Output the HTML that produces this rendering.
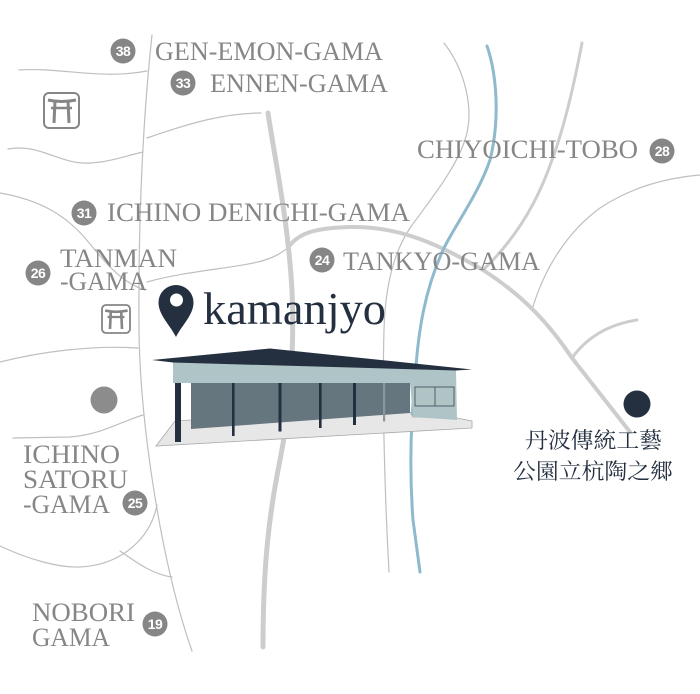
<!DOCTYPE html>
<html>
<head>
<meta charset="utf-8">
<style>
  html, body { margin: 0; padding: 0; background: #fff; }
  svg { display: block; }
  .lbl { font-family: "Liberation Serif", serif; font-size: 26px; fill: #868686; }
  .num { font-family: "Liberation Sans", sans-serif; font-weight: bold; font-size: 14px; fill: #fff; text-anchor: middle; letter-spacing: -0.5px; }
  .cjk { font-family: "Liberation Serif", "Noto Serif CJK SC", "Noto Sans CJK TC", serif; font-size: 22px; fill: #243040; }
</style>
</head>
<body>
<svg width="700" height="694" viewBox="0 0 700 694" xmlns="http://www.w3.org/2000/svg">
  <rect width="700" height="694" fill="#fff"/>

  <!-- thin roads -->
  <g fill="none" stroke="#bfbfbf" stroke-width="1.2" stroke-linecap="round">
    <path d="M152,35 C145,100 138,200 139,330 C140,420 160,560 192,651"/>
    <path d="M19,70 C60,67 100,80 147,71"/>
    <path d="M147,138 C190,123 225,113 261,113"/>
    <path d="M8,149 C40,143 60,165 90,163 C110,162 125,156 143,152"/>
    <path d="M0,193 C40,200 65,215 85,238 C105,262 120,282 145,290"/>
    <path d="M147,282 C190,270 240,268 265,260 C278,256 285,250 292,245"/>
    <path d="M0,362 C40,352 90,345 138,348"/>
    <path d="M13,438 L70,437 C100,435 120,422 143,415"/>
    <path d="M0,546 C30,560 60,568 80,567 C120,565 150,540 157,505"/>
    <path d="M120,551 C140,565 155,575 172,577"/>
    <path d="M444,43 C465,70 475,110 465,140 C455,170 430,200 410,228 C392,255 385,290 384,330 C382,400 385,500 389,572"/>
    <path d="M532,310 C545,265 570,230 600,208 C630,188 665,178 700,175"/>
  </g>

  <!-- thick roads -->
  <g fill="none" stroke="#cdcdcd" stroke-linecap="round">
    <path stroke-width="5" d="M268,113 C275,160 288,220 292,290 C295,360 288,420 280,460 C270,510 263,560 263,647"/>
    <path stroke-width="4" d="M290,245 C300,233 315,228 350,227 C400,226 440,245 483,270 C525,297 550,325 572,358 L630,432"/>
    <path stroke-width="3" d="M582,43 C575,80 565,125 552,160 C540,195 520,235 483,270"/>
    <path stroke-width="3" d="M572,358 C585,340 605,325 637,320"/>
  </g>

  <!-- river -->
  <path fill="none" stroke="#8fb9cd" stroke-width="3" stroke-linecap="round"
        d="M487,46 C497,75 500,120 490,160 C478,195 455,225 443,250 C425,290 418,330 415,380 C410,430 410,480 413,520 L420,572"/>

  <!-- torii icons -->
  <g id="torii" fill="none" stroke="#868686">
    <rect x="44" y="93" width="35" height="35" rx="5" stroke-width="2"/>
    <path d="M48,100 Q61.5,103 76,100" stroke-width="3"/>
    <path d="M51,108 L72,108" stroke-width="2.5"/>
    <path d="M55,101 L54,123 M68,101 L69,123" stroke-width="3"/>
  </g>
  <g transform="translate(102,305) scale(0.8) translate(-44,-93)" fill="none" stroke="#868686">
    <rect x="44" y="93" width="35" height="35" rx="5" stroke-width="2.3"/>
    <path d="M48,100 Q61.5,103 76,100" stroke-width="3.3"/>
    <path d="M51,108 L72,108" stroke-width="2.8"/>
    <path d="M55,101 L54,123 M68,101 L69,123" stroke-width="3.3"/>
  </g>

  <!-- labels -->
  <text class="lbl" x="155" y="60" textLength="228" lengthAdjust="spacingAndGlyphs">GEN-EMON-GAMA</text>
  <text class="lbl" x="210" y="92" textLength="178" lengthAdjust="spacingAndGlyphs">ENNEN-GAMA</text>
  <text class="lbl" x="417" y="158" textLength="221" lengthAdjust="spacingAndGlyphs">CHIYOICHI-TOBO</text>
  <text class="lbl" x="107" y="221" textLength="303" lengthAdjust="spacingAndGlyphs">ICHINO DENICHI-GAMA</text>
  <text class="lbl" x="60" y="267" textLength="117" lengthAdjust="spacingAndGlyphs">TANMAN</text>
  <text class="lbl" x="60" y="290" textLength="87" lengthAdjust="spacingAndGlyphs">-GAMA</text>
  <text class="lbl" x="343" y="270" textLength="197" lengthAdjust="spacingAndGlyphs">TANKYO-GAMA</text>
  <text class="lbl" x="23" y="463" textLength="97" lengthAdjust="spacingAndGlyphs">ICHINO</text>
  <text class="lbl" x="23" y="488" textLength="105" lengthAdjust="spacingAndGlyphs">SATORU</text>
  <text class="lbl" x="23" y="513" textLength="87" lengthAdjust="spacingAndGlyphs">-GAMA</text>
  <text class="lbl" x="32" y="621" textLength="103" lengthAdjust="spacingAndGlyphs">NOBORI</text>
  <text class="lbl" x="32" y="646" textLength="78" lengthAdjust="spacingAndGlyphs">GAMA</text>

  <!-- number badges -->
  <g fill="#868686">
    <circle cx="123" cy="51" r="12.5"/>
    <circle cx="183" cy="83" r="12.5"/>
    <circle cx="662" cy="151" r="12.5"/>
    <circle cx="84" cy="213" r="12.5"/>
    <circle cx="38" cy="273" r="12.5"/>
    <circle cx="322" cy="260" r="12.5"/>
    <circle cx="135" cy="503" r="12.5"/>
    <circle cx="155" cy="624" r="12.5"/>
  </g>
  <text class="num" x="123" y="56">38</text>
  <text class="num" x="183" y="88">33</text>
  <text class="num" x="662" y="156">28</text>
  <text class="num" x="84" y="218">31</text>
  <text class="num" x="38" y="278">26</text>
  <text class="num" x="322" y="265">24</text>
  <text class="num" x="135" y="508">25</text>
  <text class="num" x="155" y="629">19</text>

  <!-- markers -->
  <circle cx="104" cy="400" r="13.5" fill="#8c8c8c"/>
  <circle cx="637" cy="404" r="13.5" fill="#243040"/>

  <!-- pin + title -->
  <path fill="#243040" d="M176,337 C170,325 158.5,315 158.5,302.5 A17.5,17.5 0 1 1 193.5,302.5 C193.5,315 182,325 176,337 Z"/>
  <circle cx="176.5" cy="300" r="6.5" fill="#fff"/>
  <text x="203" y="324" font-family="Liberation Serif, serif" font-size="46" fill="#243040" textLength="183" lengthAdjust="spacingAndGlyphs">kamanjyo</text>

  <!-- building -->
  <polygon points="156,446 175,421 191,420 410,412 413,417 457,418 472,421 472,428" fill="#e7e7e7" stroke="#a9a9a9" stroke-width="0.8"/>
  <polygon points="173,362 456,370 457,420 413,417 410,383 173,383" fill="#afc4c6"/>
  <polygon points="191,383 410,383 410,413 191,429" fill="#66767e"/>
  <polygon points="152,360 270,348.5 472,369.5 456,370.5 173,362.5" fill="#243040"/>
  <rect x="175" y="383" width="6" height="59" fill="#243040"/>
  <rect x="232" y="383" width="2.6" height="53" fill="#243040"/>
  <rect x="278.5" y="383" width="3" height="48.5" fill="#243040"/>
  <rect x="319" y="383" width="2.6" height="45" fill="#243040"/>
  <rect x="353" y="383" width="3" height="42" fill="#243040"/>
  <rect x="383" y="383" width="2.2" height="38.5" fill="#8a979c"/>
  <rect x="415" y="387" width="39" height="19" fill="#b0c4c6" stroke="#3a4652" stroke-width="0.8"/>
  <line x1="435" y1="387" x2="435" y2="406" stroke="#3a4652" stroke-width="0.8"/>

  <!-- CJK label -->
  <text class="cjk" x="525" y="448" textLength="137" lengthAdjust="spacingAndGlyphs">丹波傳統工藝</text>
  <text class="cjk" x="513" y="479" textLength="160" lengthAdjust="spacingAndGlyphs">公園立杭陶之郷</text>
</svg>
</body>
</html>
